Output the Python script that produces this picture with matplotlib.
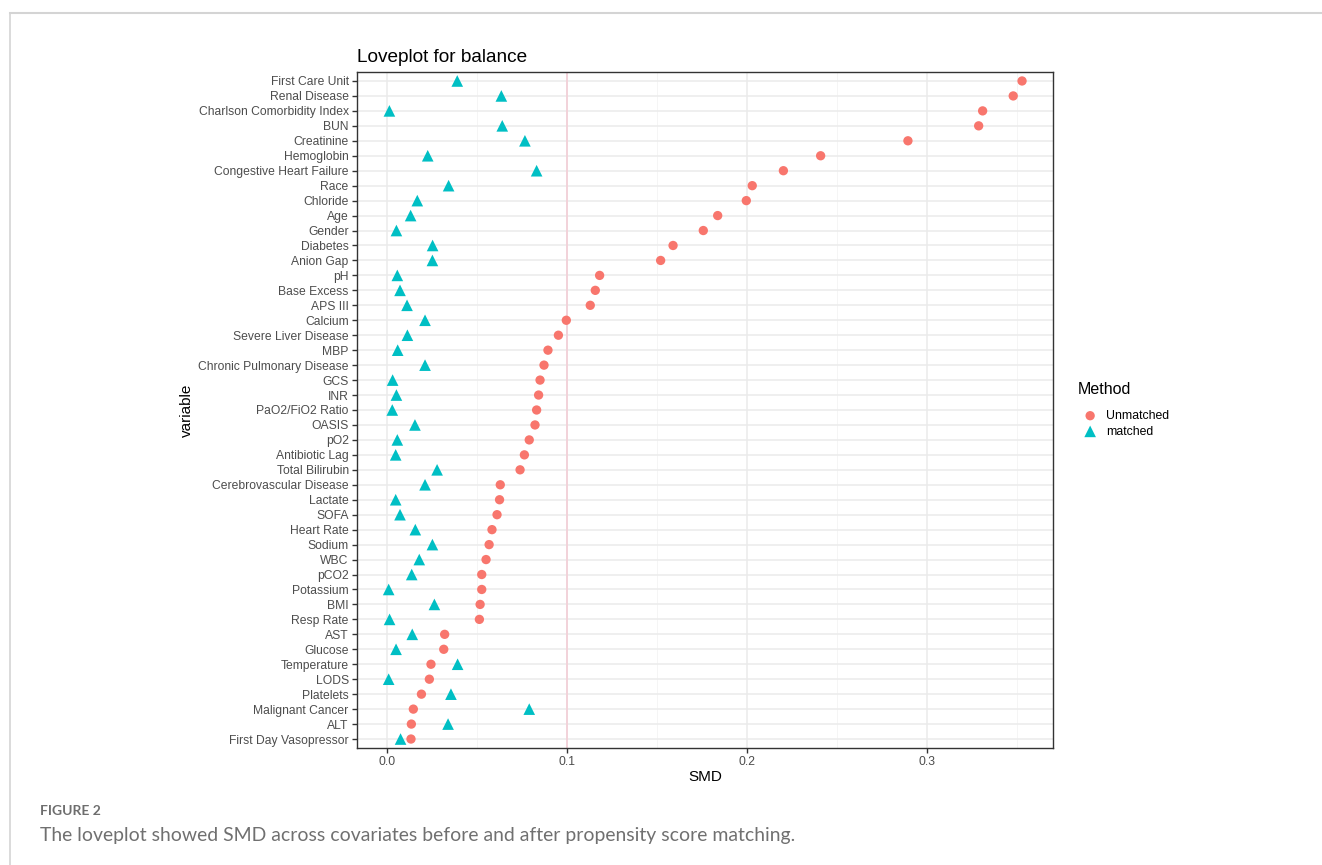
import matplotlib.pyplot as plt
from matplotlib.lines import Line2D
import numpy as np

plt.rcParams['font.family'] = ['Liberation Sans', 'DejaVu Sans']

# covariates, top to bottom
variables = ['First Care Unit', 'Renal Disease', 'Charlson Comorbidity Index', 'BUN',
             'Creatinine', 'Hemoglobin', 'Congestive Heart Failure', 'Race', 'Chloride',
             'Age', 'Gender', 'Diabetes', 'Anion Gap', 'pH', 'Base Excess', 'APS III',
             'Calcium', 'Severe Liver Disease', 'MBP', 'Chronic Pulmonary Disease', 'GCS',
             'INR', 'PaO2/FiO2 Ratio', 'OASIS', 'pO2', 'Antibiotic Lag', 'Total Bilirubin',
             'Cerebrovascular Disease', 'Lactate', 'SOFA', 'Heart Rate', 'Sodium', 'WBC',
             'pCO2', 'Potassium', 'BMI', 'Resp Rate', 'AST', 'Glucose', 'Temperature',
             'LODS', 'Platelets', 'Malignant Cancer', 'ALT', 'First Day Vasopressor']

smd_unmatched = [0.3527, 0.3478, 0.3308, 0.3286, 0.2893, 0.2408, 0.2201, 0.2028, 0.1995,
                 0.1836, 0.1756, 0.1588, 0.1519, 0.1180, 0.1156, 0.1128, 0.0995, 0.0951,
                 0.0893, 0.0871, 0.0849, 0.0841, 0.0830, 0.0821, 0.0789, 0.0762, 0.0738,
                 0.0628, 0.0624, 0.0610, 0.0582, 0.0566, 0.0549, 0.0525, 0.0525, 0.0516,
                 0.0512, 0.0319, 0.0314, 0.0243, 0.0234, 0.0190, 0.0145, 0.0134, 0.0132]

smd_matched = [0.0389, 0.0634, 0.0012, 0.0639, 0.0765, 0.0225, 0.0830, 0.0341, 0.0167,
               0.0130, 0.0051, 0.0252, 0.0251, 0.0056, 0.0071, 0.0110, 0.0210, 0.0112,
               0.0058, 0.0210, 0.0030, 0.0051, 0.0028, 0.0154, 0.0056, 0.0047, 0.0277,
               0.0210, 0.0047, 0.0071, 0.0156, 0.0251, 0.0178, 0.0136, 0.0008, 0.0262,
               0.0013, 0.0139, 0.0049, 0.0391, 0.0008, 0.0354, 0.0789, 0.0338, 0.0074]

threshold = 0.1
red = '#F8766D'
teal = '#00BFC4'

fig = plt.figure(figsize=(13.22, 8.65), dpi=100)

# frame of the figure page
fig.add_artist(Line2D([9.5 / 1322, 9.5 / 1322], [0, 1 - 12.5 / 865], color='#d4d4d4', lw=1.2))
fig.add_artist(Line2D([9.5 / 1322, 1], [1 - 12.5 / 865, 1 - 12.5 / 865], color='#d4d4d4', lw=1.5))

ax = fig.add_axes([357 / 1322, 1 - 748 / 865, 696 / 1322, 676 / 865])

n = len(variables)
ypos = np.arange(n)[::-1]

ax.set_xlim(-0.0168, 0.3699)
ax.set_ylim(-0.6, n - 1 + 0.6)

ax.set_xticks([0.0, 0.1, 0.2, 0.3])
ax.set_xticklabels(['0.0', '0.1', '0.2', '0.3'])
ax.set_xticks([0.05, 0.15, 0.25, 0.35], minor=True)
ax.set_yticks(ypos)
ax.set_yticklabels(variables)

ax.grid(True, which='major', color='#ebebeb', lw=1.1)
ax.grid(True, which='minor', axis='x', color='#f4f4f4', lw=0.6)
ax.set_axisbelow(True)

ax.axvline(threshold, color='#f3d0d8', lw=1.3, zorder=1)

ax.scatter(smd_unmatched, ypos, s=45, marker='o', color=red, edgecolors='none',
           zorder=3, label='Unmatched')
ax.scatter(smd_matched, ypos, s=70, marker='^', color=teal, edgecolors='none',
           zorder=3, label='matched')

for side in ['left', 'bottom', 'top', 'right']:
    ax.spines[side].set_color('#333333')
    ax.spines[side].set_linewidth(1.0)

ax.tick_params(axis='both', which='major', labelsize=8.7, labelcolor='#4d4d4d',
               color='#333333', length=3.5, width=1.0, pad=2.5)
ax.tick_params(axis='x', which='minor', length=0)

ax.set_xlabel('SMD', fontsize=11, labelpad=1)
ax.set_ylabel('variable', fontsize=11, labelpad=3)
ax.set_title('Loveplot for balance', fontsize=13.7, loc='left', pad=7)

leg = ax.legend(title='Method', loc='center left', bbox_to_anchor=(1.02, 0.5),
                frameon=False, fontsize=8.8, title_fontsize=11.5, handletextpad=0.3,
                labelspacing=0.3, markerscale=1.0)
leg._legend_box.align = 'left'
leg._legend_box.sep = 9

fig.text(40 / 1322, 1 - 811 / 865, 'FIGURE 2', fontsize=10, color='#6e6e6e',
         fontweight='bold', family=['Lato', 'DejaVu Sans'], va='center')
fig.text(40 / 1322, 1 - 835 / 865,
         'The loveplot showed SMD across covariates before and after propensity score matching.',
         fontsize=13.95, color='#707070', family=['Lato', 'DejaVu Sans'], va='center')

fig.savefig('out.png', dpi=100)
